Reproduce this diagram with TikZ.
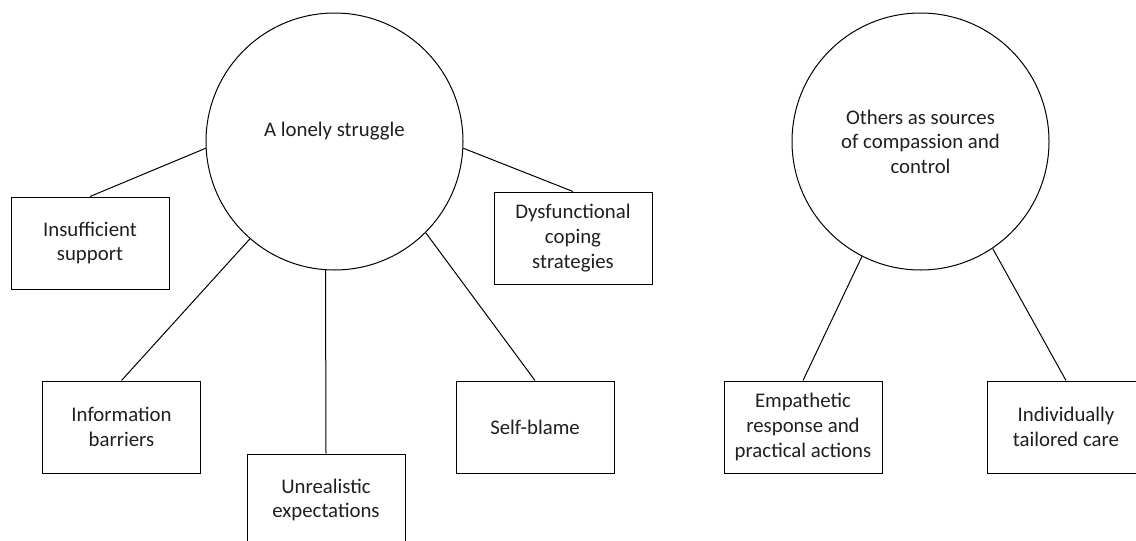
\documentclass[tikz,border=0pt]{standalone}
\usepackage{fontspec}
\setmainfont{Carlito}
\usepackage{tikz}
\tikzset{
  theme/.style={draw=black, line width=1pt, circle, minimum size=257pt, inner sep=0pt,
    align=center, text=black!88, font=\fontsize{20.8}{24.6}\selectfont},
  subtheme/.style={draw=black, line width=1pt, rectangle, minimum width=158pt, minimum height=92pt,
    inner sep=0pt, align=center, text=black!88, font=\fontsize{20.8}{24.6}\selectfont},
  link/.style={line width=1pt}
}

\begin{document}
\begin{tikzpicture}[x=1pt, y=-1pt]
		%%%%% START %%%%%
		\clip (0, 0) rectangle (1136, 541);
		
		\node[theme] (lonely) at (334.5, 141.5) {A lonely struggle\\ \mbox{}};
		\node[theme] (others) at (920.5, 141.5) {Others as sources\\of compassion and\\control};
		
		\node[subtheme] (insuff) at (90, 243) {Insufficient\\support};
		\node[subtheme] (info) at (121.5, 427) {Information\\barriers};
		\node[subtheme] (unreal) at (326, 500) {Unrealistic\\expectations};
		\node[subtheme] (blame) at (535, 427) {Self-blame};
		\node[subtheme] (coping) at (573, 238) {Dysfunctional\\coping\\strategies};
		
		\node[subtheme] (empath) at (803, 427) {Empathetic\\response and\\practical actions};
		\node[subtheme] (tailor) at (1066, 427) {Individually\\tailored care};
		
		\draw[link] (lonely.183) -- (insuff.north);
		\draw[link] (lonely.229) -- (info.north);
		\draw[link] (lonely.266) -- (unreal.north);
		\draw[link] (lonely.315) -- (blame.north);
		\draw[link] (lonely.357) -- (coping.north);
		
		\draw[link] (others.243) -- (empath.north);
		\draw[link] (others.304) -- (tailor.north);
		%%%%% END %%%%%
	\end{tikzpicture}
\end{document}
